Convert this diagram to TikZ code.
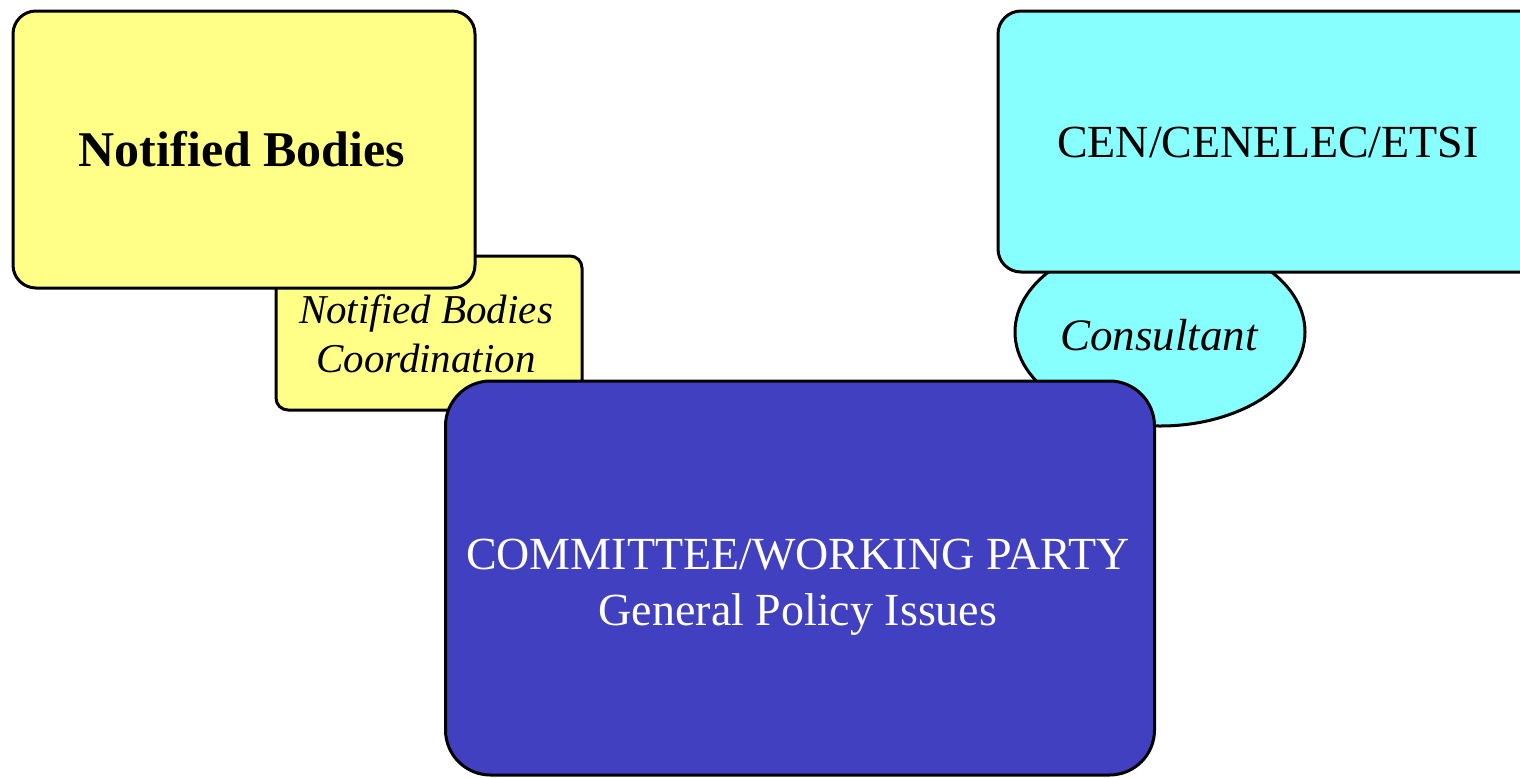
\documentclass[tikz,border=0pt]{standalone}
\usepackage{fontspec}
\setmainfont{Liberation Serif}
\usetikzlibrary{shapes.geometric}
\definecolor{nbyellow}{RGB}{255,255,135}
\definecolor{cencyan}{RGB}{135,255,255}
\definecolor{cblue}{RGB}{64,64,192}
\tikzset{
  outlined/.style={draw=black, line width=3pt, inner sep=0pt, outer sep=0pt},
  roundbox/.style={outlined, rectangle},
  txt/.style={inner sep=0pt, outer sep=0pt, anchor=base, align=center},
}
\begin{document}
\begin{tikzpicture}[x=1pt,y=-1pt]
\useasboundingbox (0,0) rectangle (1520,777);
\clip (0,0) rectangle (1520,777);
\fill[white] (0,0) rectangle (1520,777);
% Coordination box (behind)
\node[roundbox, fill=nbyellow, rounded corners=12pt, minimum width=306pt, minimum height=154pt] (coord) at (429,333) {};
% Notified Bodies box
\node[roundbox, fill=nbyellow, rounded corners=23pt, minimum width=462pt, minimum height=277pt] (nb) at (244,149.5) {};
% Consultant ellipse
\node[outlined, ellipse, fill=cencyan, minimum width=290pt, minimum height=188pt] (cons) at (1160,332) {};
% CEN box
\node[roundbox, fill=cencyan, rounded corners=23pt, minimum width=562pt, minimum height=261pt] (cen) at (1279,141.5) {};
% Committee box
\node[roundbox, fill=cblue, rounded corners=45pt, minimum width=709pt, minimum height=394pt] (com) at (800,578) {};
% Texts
\node[txt, font={\fontsize{50}{60}\selectfont\bfseries}] (nbtext) at (242,166) {Notified Bodies};
\node[txt, font={\fontsize{41}{49}\selectfont\itshape}] (coordtext) at (426,372) {Notified Bodies\\Coordination};
\node[txt, font={\fontsize{46}{55}\selectfont}] (centext) at (1268,157) {CEN/CENELEC/ETSI};
\node[txt, font={\fontsize{45}{54}\selectfont\itshape}] (constext) at (1159,350) {Consultant};
\node[txt, text=white, font={\fontsize{46}{56}\selectfont}] (comtext) at (798,625) {COMMITTEE/WORKING PARTY\\General Policy Issues};
\end{tikzpicture}
\end{document}
